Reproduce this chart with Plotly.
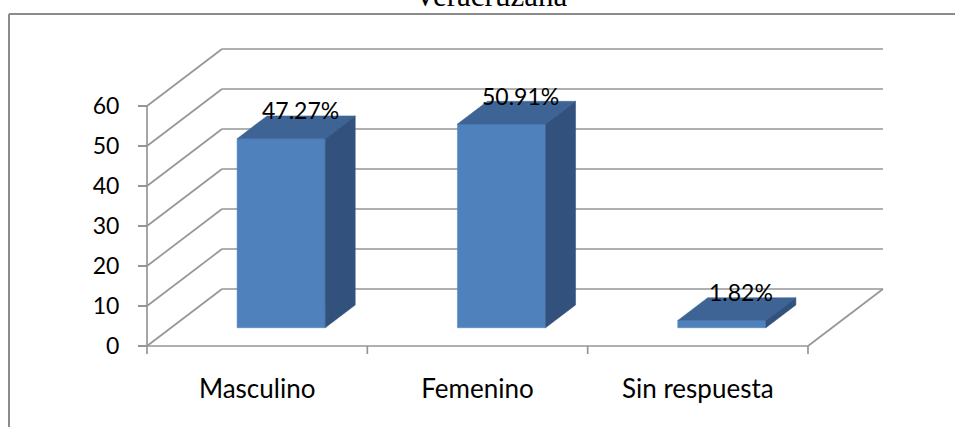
import plotly.graph_objects as go

# ---------------- data ----------------
categories = ["Masculino", "Femenino", "Sin respuesta"]
values = [47.27, 50.91, 1.82]
value_labels = ["47.27%", "50.91%", "1.82%"]
y_ticks = [0, 10, 20, 30, 40, 50, 60]
title_text = "Veracruzana"

# ---------------- geometry / style ----------------
W, H = 955, 427
ORIGIN_X_PX, ORIGIN_Y_PX = 147, 346      # pixel position of (category 0, value 0) on the front plane
PX_PER_CAT = 220.33
PX_PER_UNIT = 4.0
DEPTH_X = 75 / PX_PER_CAT                # full depth offset in category units
DEPTH_Y = 57 / PX_PER_UNIT               # full depth offset in value units
BAR_W = 0.4
BAR_D0, BAR_D1 = 0.32, 0.72

GRID = "#969696"
FRONT = "#4f81bd"
TOP = "#3d6494"
SIDE = "#32527d"
FONT = "Lato, Calibri, sans-serif"

n = len(categories)
ymax = max(y_ticks)


def proj(u, v, d):
    return u + d * DEPTH_X, v + d * DEPTH_Y


fig = go.Figure()

# gridlines: back wall and left wall
gx, gy = [], []
for t in y_ticks:
    for a, b in ((proj(0, t, 1), proj(n, t, 1)), (proj(0, t, 0), proj(0, t, 1))):
        gx += [a[0], b[0], None]
        gy += [a[1], b[1], None]
# floor front / right edge and value axis line
for a, b in ((proj(0, 0, 0), proj(n, 0, 0)), (proj(n, 0, 0), proj(n, 0, 1)), (proj(0, 0, 0), proj(0, ymax, 0))):
    gx += [a[0], b[0], None]
    gy += [a[1], b[1], None]
# category boundary ticks
for k in range(n + 1):
    gx += [k, k, None]
    gy += [0, -8 / PX_PER_UNIT, None]
fig.add_trace(go.Scatter(x=gx, y=gy, mode="lines", line=dict(color=GRID, width=1.7),
                         hoverinfo="skip", showlegend=False))

# 3D bars
for i, v in enumerate(values):
    c = i + 0.5
    xl, xr = c - BAR_W / 2, c + BAR_W / 2
    faces = [
        ([(xl, 0, BAR_D0), (xr, 0, BAR_D0), (xr, v, BAR_D0), (xl, v, BAR_D0)], FRONT),
        ([(xl, v, BAR_D0), (xr, v, BAR_D0), (xr, v, BAR_D1), (xl, v, BAR_D1)], TOP),
        ([(xr, 0, BAR_D0), (xr, 0, BAR_D1), (xr, v, BAR_D1), (xr, v, BAR_D0)], SIDE),
    ]
    for pts, col in faces:
        xs, ys = zip(*[proj(*p) for p in pts])
        fig.add_trace(go.Scatter(x=list(xs) + [xs[0]], y=list(ys) + [ys[0]], mode="lines",
                                 fill="toself", fillcolor=col, line=dict(color=col, width=0.5),
                                 hoverinfo="skip", showlegend=False))
    lx, ly = proj(c, v, (BAR_D0 + BAR_D1) / 2)
    fig.add_annotation(x=lx, y=ly, text=value_labels[i], showarrow=False, xshift=4, yshift=17,
                       font=dict(family=FONT, size=23, color="#000000"))

# title (cropped at the top of the picture, as in the source)
fig.add_annotation(xref="paper", yref="paper", x=491 / W, y=1 + 4 / H,
                   text=title_text, showarrow=False, yanchor="middle",
                   font=dict(family="Liberation Serif, Times New Roman, serif", size=31, color="#000000"))

# chart frame (top and left edges visible)
FRAME = dict(color="#8c8c8c", width=2)
fig.add_shape(type="line", xref="paper", yref="paper", x0=9 / W, x1=1.0, y0=1 - 14 / H, y1=1 - 14 / H, line=FRAME)
fig.add_shape(type="line", xref="paper", yref="paper", x0=9 / W, x1=9 / W, y0=0.0, y1=1 - 14 / H, line=FRAME)

x_range = [-ORIGIN_X_PX / PX_PER_CAT, (W - ORIGIN_X_PX) / PX_PER_CAT]
y_range = [-(H - ORIGIN_Y_PX) / PX_PER_UNIT, ORIGIN_Y_PX / PX_PER_UNIT]

fig.update_layout(
    width=W, height=H,
    margin=dict(l=0, r=0, t=0, b=0),
    paper_bgcolor="white", plot_bgcolor="white",
    xaxis=dict(range=x_range, showgrid=False, zeroline=False, showline=False,
               tickvals=[i + 0.5 for i in range(n)], ticktext=categories, ticks="",
               anchor="free", position=1 - ORIGIN_Y_PX / H, ticklabelstandoff=25,
               tickfont=dict(family=FONT, size=26, color="#000000"), fixedrange=True),
    yaxis=dict(range=y_range, showgrid=False, zeroline=False, showline=False,
               tickvals=y_ticks, ticks="outside", ticklen=9, tickcolor=GRID, tickwidth=1.7,
               anchor="free", position=ORIGIN_X_PX / W, ticklabelstandoff=14,
               tickfont=dict(family=FONT, size=23, color="#000000"), fixedrange=True),
    showlegend=False,
)

fig.write_html("out.html", config={"displayModeBar": False},
               post_script="document.body.style.margin='0';")
